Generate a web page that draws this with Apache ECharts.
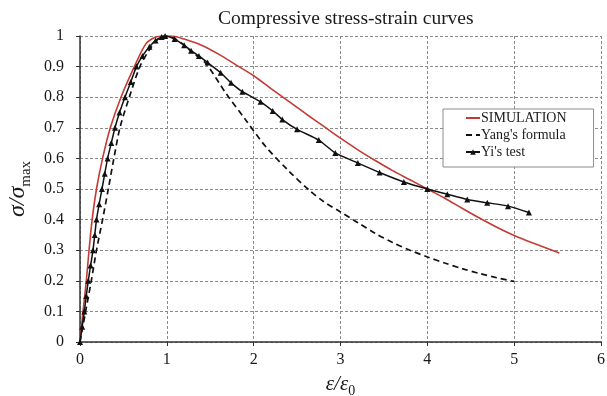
<!DOCTYPE html>
<html>
<head>
<meta charset="utf-8">
<script src="https://cdn.jsdelivr.net/npm/echarts@6/dist/echarts.min.js"></script>
<style>html,body{margin:0;padding:0;background:#fff;}#c{width:607px;height:396px;}</style>
</head>
<body>
<div id="c"></div>
<script>
// ---- data ----
const xTicks = [0, 1, 2, 3, 4, 5, 6];
const yTicks = [0, 0.1, 0.2, 0.3, 0.4, 0.5, 0.6, 0.7, 0.8, 0.9, 1];

const simX = [0, 0.035, 0.073, 0.104, 0.14, 0.19, 0.26, 0.349, 0.472, 0.626, 0.76, 0.86, 0.95, 1.05, 1.2, 1.4, 1.6, 1.8, 2.0, 2.2, 2.4, 2.6, 2.8, 3.0, 3.2, 3.4, 3.6, 3.8, 4.0, 4.2, 4.4, 4.6, 4.8, 5.0, 5.2, 5.52];
const simY = [0, 0.1, 0.2, 0.3, 0.4, 0.5, 0.6, 0.7, 0.8, 0.9, 0.975, 0.995, 1.0, 1.0, 0.99, 0.97, 0.94, 0.905, 0.87, 0.828, 0.787, 0.746, 0.706, 0.666, 0.628, 0.593, 0.56, 0.53, 0.5, 0.47, 0.437, 0.405, 0.375, 0.348, 0.325, 0.291];

const yangX = [0, 0.065, 0.13, 0.19, 0.26, 0.326, 0.39, 0.46, 0.568, 0.69, 0.8, 0.9, 1.0, 1.1, 1.2, 1.3, 1.45, 1.68, 1.91, 2.14, 2.4, 2.64, 2.8, 3.0, 3.2, 3.4, 3.6, 3.8, 4.0, 4.2, 4.4, 4.6, 4.8, 5.0];
const yangY = [0, 0.1, 0.2, 0.3, 0.4, 0.5, 0.6, 0.7, 0.8, 0.9, 0.955, 0.99, 1.0, 0.99, 0.97, 0.945, 0.91, 0.813, 0.725, 0.638, 0.56, 0.496, 0.46, 0.425, 0.39, 0.355, 0.325, 0.3, 0.278, 0.258, 0.24, 0.224, 0.21, 0.198];

const yiX = [0, 0.025, 0.05, 0.072, 0.095, 0.122, 0.15, 0.17, 0.19, 0.22, 0.253, 0.285, 0.318, 0.36, 0.403, 0.455, 0.518, 0.585, 0.65, 0.72, 0.80, 0.87, 0.94, 0.98, 1.09, 1.2, 1.28, 1.37, 1.47, 1.62, 1.74, 1.87, 2.08, 2.22, 2.33, 2.5, 2.75, 2.94, 3.2, 3.45, 3.73, 4.0, 4.23, 4.46, 4.69, 4.93, 5.17];
const yiY = [0, 0.05, 0.1, 0.15, 0.2, 0.25, 0.3, 0.35, 0.4, 0.45, 0.5, 0.55, 0.6, 0.65, 0.7, 0.75, 0.8, 0.85, 0.9, 0.935, 0.965, 0.985, 0.997, 1.0, 0.99, 0.97, 0.952, 0.935, 0.913, 0.88, 0.847, 0.818, 0.785, 0.755, 0.727, 0.695, 0.66, 0.618, 0.585, 0.554, 0.523, 0.5, 0.483, 0.466, 0.455, 0.444, 0.423];

const seriesNames = ['SIMULATION', "Yang's formula", "Yi's test"];
const titleText = 'Compressive stress-strain curves';

const pairs = (xs, ys) => xs.map((x, i) => [x, ys[i]]);
const SERIF = "'Liberation Serif', 'DejaVu Serif', serif";
const gridLine = { show: true, lineStyle: { color: '#8a8a8a', type: [3, 2], width: 1 } };

const chart = echarts.init(document.getElementById('c'), null, { renderer: 'canvas' });
chart.setOption({
  animation: false,
  backgroundColor: '#fff',
  title: {
    text: titleText,
    left: 213, top: 4,
    textStyle: { fontFamily: SERIF, fontSize: 19.5, fontWeight: 'normal', color: '#1a1a1a' }
  },
  grid: { left: 80, right: 6, top: 36, bottom: 54, outerBoundsMode: 'none', containLabel: false },
  legend: {
    orient: 'vertical',
    left: 443, top: 109,
    data: [
      { name: seriesNames[0], itemStyle: { opacity: 0 } },
      { name: seriesNames[1], itemStyle: { opacity: 0 } },
      { name: seriesNames[2] }
    ],
    backgroundColor: '#fff',
    borderColor: '#8c8c8c', borderWidth: 1,
    padding: [2, 27, 8, 22],
    itemGap: 3,
    itemWidth: 14, itemHeight: 7,
    textStyle: { fontFamily: SERIF, fontSize: 14, color: '#1a1a1a', padding: [0, 0, 0, -4] }
  },
  xAxis: {
    type: 'value', min: 0, max: 6, interval: 1,
    name: '{i|ε/ε}{s|0}',
    nameLocation: 'middle', nameGap: 32,
    nameTextStyle: {
      rich: {
        i: { fontFamily: SERIF, fontStyle: 'italic', fontSize: 21, color: '#1a1a1a', verticalAlign: 'top', lineHeight: 22 },
        s: { fontFamily: SERIF, fontSize: 14, color: '#1a1a1a', verticalAlign: 'top', padding: [10, 0, 0, 0], lineHeight: 14 }
      }
    },
    axisLine: { show: true, onZero: false, lineStyle: { color: '#333', width: 1.5 } },
    axisTick: { show: true, length: 4, lineStyle: { color: '#333' } },
    axisLabel: { fontFamily: SERIF, fontSize: 16, color: '#1a1a1a', margin: 10,
      formatter: v => String(xTicks[Math.round(v)]) },
    splitLine: gridLine
  },
  yAxis: {
    type: 'value', min: 0, max: 1, interval: 0.1,
    name: '{i|σ/σ}{s|max}',
    nameLocation: 'middle', nameGap: 46, nameRotate: 90,
    nameTextStyle: {
      rich: {
        i: { fontFamily: SERIF, fontStyle: 'italic', fontSize: 24, color: '#1a1a1a', verticalAlign: 'top', lineHeight: 26 },
        s: { fontFamily: SERIF, fontSize: 15, color: '#1a1a1a', verticalAlign: 'top', padding: [12, 0, 0, 0], lineHeight: 15 }
      }
    },
    axisLine: { show: true, onZero: false, lineStyle: { color: '#333', width: 1.5 } },
    axisTick: { show: true, length: 4, lineStyle: { color: '#333' } },
    axisLabel: { fontFamily: SERIF, fontSize: 16, color: '#1a1a1a', margin: 16,
      formatter: v => String(yTicks[Math.round(v * 10)]) },
    splitLine: gridLine
  },
  series: [
    {
      name: seriesNames[0], type: 'line', data: pairs(simX, simY),
      symbol: 'none', smooth: 0.3,
      lineStyle: { color: '#c43a35', width: 1.6 },
      itemStyle: { color: '#c43a35' }, z: 3
    },
    {
      name: seriesNames[1], type: 'line', data: pairs(yangX, yangY),
      symbol: 'none', smooth: 0.3,
      lineStyle: { color: '#111', width: 1.7, type: [6, 4] },
      itemStyle: { color: '#111' }, z: 2
    },
    {
      name: seriesNames[2], type: 'line', data: pairs(yiX, yiY),
      symbol: 'triangle', symbolSize: 6, showSymbol: true, smooth: 0.2,
      lineStyle: { color: '#111', width: 1.5 },
      itemStyle: { color: '#111' }, z: 4
    }
  ]
});
</script>
</body>
</html>
